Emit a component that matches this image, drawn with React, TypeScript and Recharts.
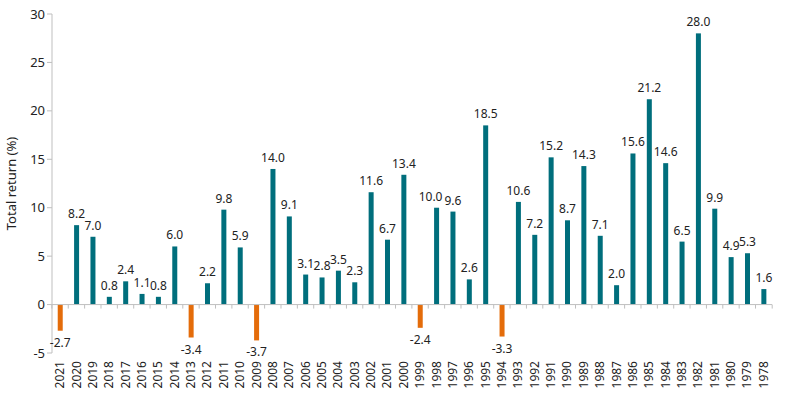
import { BarChart, Bar, XAxis, YAxis, ReferenceLine, LabelList } from 'recharts';

const years = [
  '2021', '2020', '2019', '2018', '2017', '2016', '2015', '2014', '2013', '2012', '2011',
  '2010', '2009', '2008', '2007', '2006', '2005', '2004', '2003', '2002', '2001', '2000',
  '1999', '1998', '1997', '1996', '1995', '1994', '1993', '1992', '1991', '1990', '1989',
  '1988', '1987', '1986', '1985', '1984', '1983', '1982', '1981', '1980', '1979', '1978',
];

const totalReturn = [
  -2.7, 8.2, 7.0, 0.8, 2.4, 1.1, 0.8, 6.0, -3.4, 2.2, 9.8,
  5.9, -3.7, 14.0, 9.1, 3.1, 2.8, 3.5, 2.3, 11.6, 6.7, 13.4,
  -2.4, 10.0, 9.6, 2.6, 18.5, -3.3, 10.6, 7.2, 15.2, 8.7, 14.3,
  7.1, 2.0, 15.6, 21.2, 14.6, 6.5, 28.0, 9.9, 4.9, 5.3, 1.6,
];

const yTicks = [-5, 0, 5, 10, 15, 20, 25, 30];

const TEAL = '#006E7C';
const ORANGE = '#E46C0A';
const GRID = '#BFBFBF';
const FONT = '"Noto Sans", "Open Sans", sans-serif';
const GAP = 0.35; // category gap on each side of a bar
// labels Excel pushed sideways to avoid collisions
const LABEL_NUDGE: Record<number, number> = { 23: -6 };

const data = years.map((year, i) => ({ year, value: totalReturn[i] }));

// bar + small category tick on the zero line
const BarShape = (props: any) => {
  const { x, y, width, height, index } = props;
  const v = props.payload?.value ?? 0;
  const top = Math.min(y, y + height);
  const bottom = Math.max(y, y + height);
  const zero = v >= 0 ? bottom : top;
  const band = width / (1 - 2 * GAP);
  const left = x + width / 2 - band / 2;
  return (
    <g>
      <rect x={x} y={top} width={width} height={bottom - top} fill={v < 0 ? ORANGE : TEAL} />
      <line x1={left} x2={left} y1={zero} y2={zero + 4} stroke={GRID} />
      {index === years.length - 1 && (
        <line x1={left + band} x2={left + band} y1={zero} y2={zero + 4} stroke={GRID} />
      )}
    </g>
  );
};

const ValueLabel = (props: any) => {
  const { x, y, width, height, value, index } = props;
  const top = Math.min(y, y + height);
  const bottom = Math.max(y, y + height);
  const neg = value < 0;
  return (
    <text
      x={x + width / 2 + (LABEL_NUDGE[index] ?? 0)}
      y={neg ? bottom + 16 : top - 7}
      textAnchor="middle"
      fontSize={12}
      fontFamily={FONT}
      fill="#222"
    >
      {value.toFixed(1)}
    </text>
  );
};

const YearTick = (props: any) => {
  const { x, y, payload } = props;
  return (
    <text
      x={x}
      y={y}
      transform={`rotate(-90, ${x}, ${y})`}
      textAnchor="end"
      dy={4}
      fontSize={12}
      fontFamily={FONT}
      fill="#222"
    >
      {payload.value}
    </text>
  );
};

export default function App() {
  return (
    <div style={{ position: 'absolute', left: 0, top: 0, background: '#fff' }}>
      <BarChart
        width={785}
        height={397}
        data={data}
        margin={{ top: 14, right: 13, left: 0, bottom: 0 }}
        barCategoryGap={`${GAP * 100}%`}
      >
        <XAxis
          dataKey="year"
          interval={0}
          height={44}
          axisLine={false}
          tickLine={false}
          tick={<YearTick />}
          tickMargin={2}
        />
        <YAxis
          width={52}
          domain={[-5, 30]}
          ticks={yTicks}
          interval={0}
          stroke={GRID}
          tickSize={5}
          tick={{ fill: '#222', fontSize: 13, fontFamily: FONT }}
          label={{
            content: ({ viewBox }: any) => (
              <text
                x={13}
                y={viewBox.y + viewBox.height / 2}
                transform={`rotate(-90, 13, ${viewBox.y + viewBox.height / 2})`}
                textAnchor="middle"
                dominantBaseline="middle"
                fontSize={13}
                fontFamily={FONT}
                fill="#222"
              >
                Total return (%)
              </text>
            ),
          }}
        />
        <ReferenceLine y={0} stroke={GRID} />
        <Bar dataKey="value" isAnimationActive={false} shape={<BarShape />}>
          <LabelList dataKey="value" content={<ValueLabel />} />
        </Bar>
      </BarChart>
    </div>
  );
}
